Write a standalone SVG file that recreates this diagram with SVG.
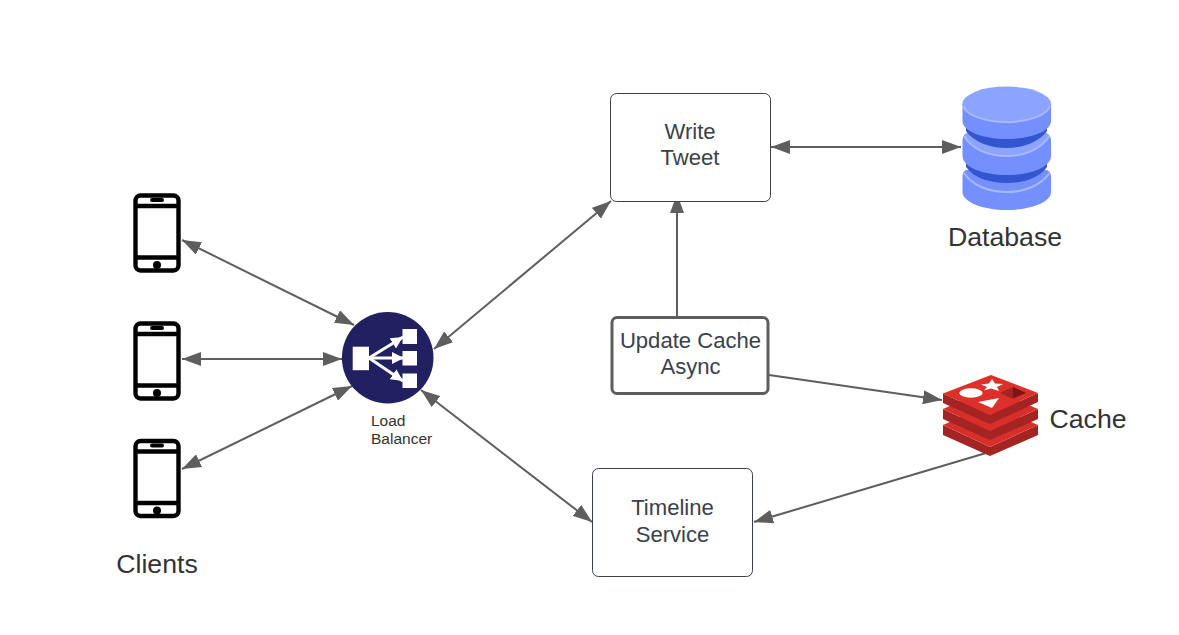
<svg xmlns="http://www.w3.org/2000/svg" width="1179" height="635" viewBox="0 0 1179 635">
<style>
text{font-family:"Liberation Sans",Arial,sans-serif;fill:#3a414a;text-anchor:middle}
.t{font-size:22.100px}
.big{font-size:26.700px;fill:#333}
.small{font-size:15.500px;fill:#333;text-anchor:start}
.box{fill:#fff;stroke:#3a414a;stroke-width:1}
.c{fill:none;stroke:#5e5e5e;stroke-width:2}
.pb{fill:none;stroke:#000;stroke-width:4.400}
.side{fill:#7490ff}
.band{fill:#3355cf}
.topf{fill:#8ca3ff}
.hl{fill:none;stroke:#a9b9ff;stroke-width:2}
.rd{fill:#a32422}
.rb{fill:#d92f2a}
.lbl{stroke:#fff;stroke-width:3;fill:none}
</style>
<defs>
<marker id="a" markerUnits="userSpaceOnUse" markerWidth="20" markerHeight="14" refX="19" refY="7" orient="auto-start-reverse"><path d="M0 0L19 7L0 14L0 0Z" fill="#5e5e5e"/></marker>
<g id="phone">
<rect x="-21.500" y="-37.500" width="43" height="75" rx="5" class="pb"/>
<path d="M-21-27H21M-21 24.500H21" class="pb"/>
<rect x="-7" y="-35" width="14" height="4" rx="2" fill="#000"/>
<circle cx="0" cy="32" r="4" fill="#000"/>
</g>
<marker id="w" markerUnits="userSpaceOnUse" markerWidth="13" markerHeight="12" refX="12" refY="6" orient="auto"><path d="M0 0L12 6L0 12Z" fill="#fff"/></marker>
</defs>
<rect width="1179" height="635" fill="#fff"/>
<g id="connectors">
<path class="c" d="M182 240L354 325" marker-start="url(#a)" marker-end="url(#a)"/>
<path class="c" d="M182 359H342" marker-start="url(#a)" marker-end="url(#a)"/>
<path class="c" d="M182 469L352 386" marker-start="url(#a)" marker-end="url(#a)"/>
<path class="c" d="M434 349L611 201" marker-start="url(#a)" marker-end="url(#a)"/>
<path class="c" d="M421 390L592 522" marker-start="url(#a)" marker-end="url(#a)"/>
<path class="c" d="M771 147H961" marker-start="url(#a)" marker-end="url(#a)"/>
<path class="c" d="M677 317V194" marker-end="url(#a)"/>
<path class="c" d="M769 375L942 400" marker-end="url(#a)"/>
<path class="c" d="M986 453L754 522" marker-end="url(#a)"/>
</g>
<g id="phone1"><use href="#phone" x="157" y="233"/></g>
<g id="phone2"><use href="#phone" x="157" y="361"/></g>
<g id="phone3"><use href="#phone" x="157" y="478.500"/></g>
<g id="clients"><text class="big" x="157" y="573">Clients</text></g>
<g id="load-balancer">
<circle cx="387.700" cy="357.700" r="45.800" fill="#212060"/>
<rect x="352.700" y="346.700" width="16.300" height="23.500" fill="#fff"/>
<rect x="402.500" y="329" width="14.500" height="15" fill="#fff"/>
<rect x="402.500" y="351" width="14.500" height="14.500" fill="#fff"/>
<rect x="402.500" y="373.500" width="14.500" height="14.500" fill="#fff"/>
<path class="lbl" d="M369 358L403 337" marker-end="url(#w)"/>
<path class="lbl" d="M369 358H404" marker-end="url(#w)"/>
<path class="lbl" d="M369 358L403 381" marker-end="url(#w)"/>
<text class="small" x="371" y="426">Load</text>
<text class="small" x="371" y="444">Balancer</text>
</g>
<g id="write-tweet">
<rect class="box" x="610.500" y="93.500" width="160" height="108" rx="6"/>
<text class="t" x="690" y="138.500">Write</text>
<text class="t" x="690" y="165">Tweet</text>
</g>
<g id="update-cache">
<rect x="612" y="317.500" width="156" height="76" rx="5" fill="#fff" stroke="#5e5e5e" stroke-width="3"/>
<text class="t" x="690.500" y="348">Update Cache</text>
<text class="t" x="690.500" y="374">Async</text>
</g>
<g id="timeline-service">
<rect class="box" x="592.500" y="468.500" width="160" height="108" rx="6"/>
<text class="t" x="672.500" y="515">Timeline</text>
<text class="t" x="672.500" y="542">Service</text>
</g>
<g id="database">
<path class="side" d="M962.500 176Q962.500 172 966 170H1047Q1051 172 1051 176V192C1051 202 1031 210 1006.700 210S962.500 202 962.500 192Z"/>
<path class="hl" d="M964 173C972 185 988 192 1006.700 192S1041 185 1049.500 173"/>
<path class="band" d="M966 160V167C974 178 990 183 1006.700 183S1039 178 1047 167V160Z"/>
<path class="side" d="M962.500 140Q962.500 136 966 134H1047Q1051 136 1051 140V156C1051 167 1031 175 1006.700 175S962.500 167 962.500 156Z"/>
<path class="topf" d="M964 135C972 148 988 156 1006.700 156S1041 148 1049.500 135L1040 128H972Z"/>
<path class="hl" d="M964 136C972 149 988 156 1006.700 156S1041 149 1049.500 136"/>
<path class="band" d="M966 124V131C974 142 990 148 1006.700 148S1039 142 1047 131V124Z"/>
<path class="side" d="M962.500 104V121C962.500 131 982 139 1006.700 139S1051 131 1051 121V104Z"/>
<ellipse class="topf" cx="1006.700" cy="104" rx="44.300" ry="17.500"/>
<path class="hl" d="M963.500 106C966 115 984 122 1006.700 122S1047 115 1050 106"/>
<text class="big" x="1005" y="246">Database</text>
</g>
<g id="cache">
<path class="rd" d="M943 425V435L990 456L1038 435V425L990 447Z"/>
<path class="rb" d="M943 425L990 404L1038 425L990 447Z"/>
<path class="rd" d="M943 409V419L990 440L1038 419V409L990 431Z"/>
<path class="rb" d="M943 409L990 388L1038 409L990 431Z"/>
<path class="rd" d="M943 393.500V403L990 424L1038 402V393L990 415Z"/>
<path d="M943 393.500L991 375L1038 393L990 415Z" fill="#dc302b"/>
<ellipse cx="971" cy="393" rx="11.700" ry="4.700" fill="#fff"/>
<path d="M992 379L995 383.500L1003 384L997 387L999 391L991 388.500L984 390.500L987 387L981 384.500L989 383.500Z" fill="#fff"/>
<path d="M978 402L999 398L992 408Z" fill="#fff"/>
<path d="M1000 393L1013 387L1026 393L1013 399Z" fill="#a32422"/>
<path d="M1013 387L1026 393L1013 398Z" fill="#7a1512"/>
<text class="big" x="1088" y="428">Cache</text>
</g>
</svg>
